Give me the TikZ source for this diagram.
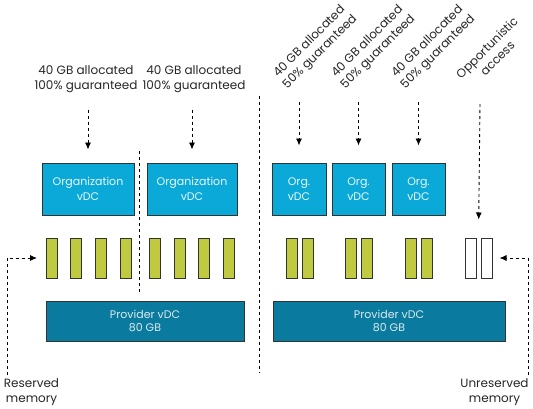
\documentclass[tikz,border=0pt]{standalone}
\usepackage{fontspec}
\setmainfont{Poppins}
\usepackage{xcolor}
\usetikzlibrary{arrows.meta,calc}
\definecolor{orgblue}{HTML}{0AA9D8}
\definecolor{provteal}{HTML}{0A7B9E}
\definecolor{memgreen}{HTML}{C0CA40}
\definecolor{edgegray}{HTML}{333333}

\begin{document}
\begin{tikzpicture}[x=1pt,y=-1pt,
  every node/.style={font=\fontsize{12}{15}\selectfont,text=black!85},
  orgbox/.style={draw=edgegray,fill=orgblue,line width=1pt,inner sep=0pt,
                 minimum height=52pt,align=center,text=white!92!orgblue,
                 font=\fontsize{11}{14.5}\selectfont},
  provbox/.style={draw=edgegray,fill=provteal,line width=1pt,inner sep=0pt,
                  minimum height=40pt,align=center,text=white!85!provteal,
                  font=\fontsize{11}{13.5}\selectfont},
  bar/.style={draw=edgegray,fill=memgreen,line width=1pt,inner sep=0pt,
              minimum width=11pt,minimum height=40pt},
  freebar/.style={bar,fill=white},
  lbl/.style={align=center},
  rlbl/.style={align=center,rotate=45},
  darr/.style={-{Latex[length=7pt,width=6pt]},dashed,line width=0.9pt,black},
  sep/.style={dashed,line width=0.9pt,black}
]
\useasboundingbox (0,0) rectangle (533,408);

% Left half: two full organization vDCs
\node[lbl] (lab1) at (86,79.5) {40 GB allocated\\100\% guaranteed};
\node[lbl] (lab2) at (194,79.5) {40 GB allocated\\100\% guaranteed};
\node[orgbox,minimum width=92pt] (org1) at (88,189) {Organization\\vDC};
\node[orgbox,minimum width=90pt] (org2) at (192,189) {Organization\\vDC};

\foreach \x [count=\i] in {52,76,101,126,155,180,204,229}
  \node[bar] (m\i) at (\x,258) {};

\node[provbox,minimum width=198pt] (prov1) at (145,321) {Provider vDC\\80 GB};
\node[lbl] (resv) at (31.5,392.5) {Reserved\\memory};

\draw[darr,shorten <=13pt,shorten >=13pt] (lab1.south -| org1.north) -- (org1.north);
\draw[darr,shorten <=13pt,shorten >=13pt] (lab2.south -| org2.north) -- (org2.north);
\draw[darr,shorten >=9pt] ([xshift=-24.5pt]resv.north) |- (m1.west);

% Separators
\draw[sep] (139,151) -- (139,292);
\draw[sep] (259,96) -- (259,373);

% Right half: three half-guaranteed org vDCs
\node[rlbl] (lab3) at (315,47) {40 GB allocated\\50\% guaranteed};
\node[rlbl] (lab4) at (373,47) {40 GB allocated\\50\% guaranteed};
\node[rlbl] (lab5) at (433,47) {40 GB allocated\\50\% guaranteed};
\node[rlbl] (opp) at (492,53) {Opportunistic\\access};

\node[orgbox,minimum width=54pt] (org3) at (299,189) {Org.\\vDC};
\node[orgbox,minimum width=53pt] (org4) at (358.5,189) {Org.\\vDC};
\node[orgbox,minimum width=53pt] (org5) at (418.5,189) {Org.\\vDC};

\foreach \x [count=\i] in {291.5,307.5,351,367,410.5,426.5}
  \node[bar] (n\i) at (\x,258) {};
\node[freebar] (w1) at (470.5,258) {};
\node[freebar] (w2) at (486.5,258) {};

\node[provbox,minimum width=232pt] (prov2) at (389,321) {Provider vDC\\80 GB};
\node[lbl] (unres) at (494.5,392.5) {Unreserved\\memory};

\coordinate (a3) at (299,102);
\coordinate (a4) at (358.5,102);
\coordinate (a5) at (418.5,102);
\coordinate (ao) at (480,104);
\foreach \i in {3,4,5}
  \draw[darr,shorten >=17pt] (a\i) -- (org\i.north);
\draw[darr,shorten >=18pt] (ao) -- ($(w1.north)!0.5!(w2.north)$);
\draw[darr,shorten >=7pt] ([xshift=33.5pt]unres.north) |- (w2.east);

\end{tikzpicture}
\end{document}
